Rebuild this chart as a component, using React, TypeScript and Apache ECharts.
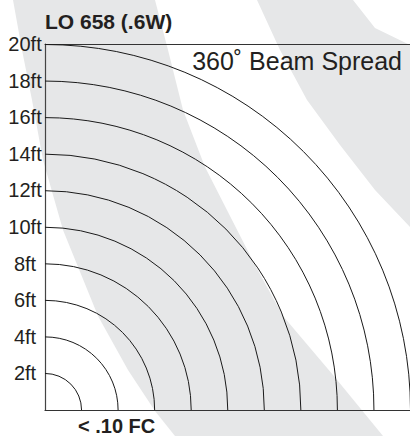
import React, { useEffect, useRef } from "react";
import * as echarts from "echarts";

// Distances (ft) at which illuminance drops below .10 FC, one quarter-circle each
const beamRadii: number[] = [2, 4, 6, 8, 10, 12, 14, 16, 18, 20];
// Y axis tick labels (from 0 to 20 step 2)
const yTickLabels: string[] = ["", "2ft", "4ft", "6ft", "8ft", "10ft", "12ft", "14ft", "16ft", "18ft", "20ft"];
const titleText = "LO 658 (.6W)";
const spreadText = "360˚ Beam Spread";
const footText = "< .10 FC";

const FONT = '"Liberation Sans", Arial, Helvetica, sans-serif';
const INK = "#231f20";
const WATERMARK = "#e6e7e8";

export default function App() {
  const ref = useRef<HTMLDivElement>(null);
  useEffect(() => {
    if (!ref.current) return;
    const chart = echarts.init(ref.current, undefined, { renderer: "svg" });
    const hiddenAxisParts = {
      axisTick: { show: false },
      axisLabel: { show: false },
      splitLine: { show: false },
    };
    const option: any = {
      animation: false,
      backgroundColor: "#ffffff",
      graphic: [
        {
          type: "polygon",
          z: -5,
          silent: true,
          shape: {
            points: [
              [9, -20], [13, 0], [22, 50], [32, 100], [43, 160], [63, 230], [98, 316],
              [128, 370], [155, 411], [175, 436], [190, 460],
              [400, 460], [383, 436], [333, 375], [283, 316], [255, 265], [230, 216],
              [205, 167], [183, 110], [168, 50], [155, 0], [150, -20],
            ],
          },
          style: { fill: WATERMARK },
        },
        {
          type: "polygon",
          z: -5,
          silent: true,
          shape: {
            points: [
              [248, -20], [257, 0], [280, 50], [307, 100], [340, 145], [375, 190],
              [410, 227], [440, 255], [440, 60], [410, 45], [375, 28], [353, 0], [340, -20],
            ],
          },
          style: { fill: WATERMARK },
        },
        {
          type: "text",
          z: 10,
          style: {
            text: titleText,
            x: 45,
            y: 21,
            verticalAlign: "middle",
            fill: INK,
            font: `bold 21px ${FONT}`,
          },
        },
        {
          type: "text",
          z: 10,
          style: {
            text: spreadText,
            x: 402,
            y: 61,
            align: "right",
            verticalAlign: "middle",
            fill: INK,
            font: `25px ${FONT}`,
          },
        },
        {
          type: "text",
          z: 10,
          style: {
            text: footText,
            x: 78,
            y: 426,
            align: "left",
            verticalAlign: "middle",
            fill: INK,
            font: `bold 20px ${FONT}`,
          },
        },
      ],
      grid: {
        left: 45,
        top: 44,
        width: 367,
        height: 366,
        show: false,
      },
      xAxis: [
        {
          type: "value",
          position: "bottom",
          min: 0,
          max: 20,
          interval: 2,
          axisLine: { show: true, onZero: false, lineStyle: { color: "#333333", width: 1.2 } },
          ...hiddenAxisParts,
        },
        {
          type: "value",
          position: "top",
          min: 0,
          max: 20,
          interval: 2,
          axisLine: { show: true, onZero: false, lineStyle: { color: "#333333", width: 1 } },
          ...hiddenAxisParts,
        },
      ],
      yAxis: {
        type: "value",
        min: 0,
        max: 20,
        interval: 2,
        axisLine: { show: true, onZero: false, lineStyle: { color: "#444444", width: 1.2 } },
        axisTick: { show: false },
        splitLine: { show: false },
        axisLabel: {
          show: true,
          margin: 20,
          align: "center",
          color: INK,
          fontSize: 20,
          fontFamily: FONT,
          formatter: (_v: number, i: number) => yTickLabels[i] ?? "",
        },
      },
      series: [
        {
          type: "custom",
          clip: false,
          z: 3,
          xAxisIndex: 0,
          encode: { x: 0, y: 1 },
          data: beamRadii.map((r) => [r, 0]),
          renderItem: (_params: any, api: any) => {
            const r = api.value(0);
            const c = api.coord([0, 0]);
            const p = api.coord([r, 0]);
            const q = api.coord([0, r]);
            const rad = ((p[0] - c[0]) + (c[1] - q[1])) / 2;
            return {
              type: "arc",
              shape: {
                cx: c[0],
                cy: c[1],
                r: rad,
                startAngle: -Math.PI / 2,
                endAngle: 0,
                clockwise: true,
              },
              style: { stroke: "#1a1a1a", lineWidth: 1, fill: "none" },
            };
          },
        },
      ],
    };
    chart.setOption(option);
    return () => chart.dispose();
  }, []);
  return (
    <div
      ref={ref}
      style={{ position: "absolute", left: 0, top: 0, width: 410, height: 436 }}
    />
  );
}
